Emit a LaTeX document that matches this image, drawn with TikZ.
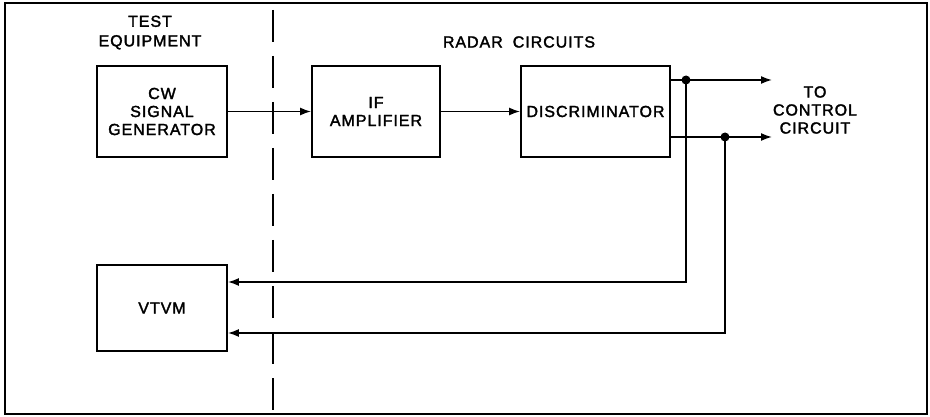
\documentclass[tikz,border=0pt]{standalone}
\usepackage{fontspec}
\setmainfont[LetterSpace=6,FakeBold=2]{Liberation Sans}
\usetikzlibrary{arrows.meta}
\begin{document}
\begin{tikzpicture}[x=1pt,y=-1pt,
  blk/.style={draw, line width=1.8pt, minimum width=130pt, minimum height=91pt, align=center, inner sep=0pt, font=\fontsize{16}{18}\selectfont},
  lbl/.style={align=center, inner sep=0pt, font=\fontsize{16}{18}\selectfont},
  conn/.style={line width=1.6pt},
  arr/.style={line width=1.6pt, -{Latex[length=11pt,width=8pt]}},
  jdot/.style={circle, fill=black, inner sep=0pt, minimum size=9pt}]
\useasboundingbox (0,0) rectangle (930,417);
\draw[line width=2pt] (5,3) rectangle (927,414);
\draw[line width=1.8pt, dash pattern=on 32pt off 14pt] (273,10) -- (273,410);

\node[lbl, font=\fontsize{16}{19.5}\selectfont] (teq) at (150,32.5) {TEST\\EQUIPMENT};
\node[lbl] (rad) at (519,42) {RADAR\hspace{10pt}CIRCUITS};

\node[blk] (cw) at (162,111.5) {CW\\SIGNAL\\GENERATOR};
\node[blk, minimum width=128pt] (ifa) at (376,111.5) {IF\\AMPLIFIER};
\node[blk, minimum width=149pt] (disc) at (595.5,111.5) {DISCRIMINATOR};
\node[blk, minimum height=86pt] (vtvm) at (162,308) {VTVM};

\node[lbl] (ctl) at (815,110) {TO\\CONTROL\\CIRCUIT};

\draw[arr] (cw.east) -- (ifa.west);
\draw[arr] (ifa.east) -- (disc.west);

\coordinate (o1) at (disc.east |- 0,80);
\coordinate (o2) at (disc.east |- 0,137);
\node[jdot] (j1) at (686,80) {};
\node[jdot] (j2) at (725,137) {};
\coordinate (e1) at (772,80);
\coordinate (e2) at (772,137);
\coordinate (v1) at (vtvm.east |- 0,282);
\coordinate (v2) at (vtvm.east |- 0,333);

\draw[conn] (o1) -- (j1.center);
\draw[arr] (j1.center) -- (e1);
\draw[conn] (o2) -- (j2.center);
\draw[arr] (j2.center) -- (e2);
\draw[arr] (j1.center) |- (v1);
\draw[arr] (j2.center) |- (v2);
\end{tikzpicture}
\end{document}
